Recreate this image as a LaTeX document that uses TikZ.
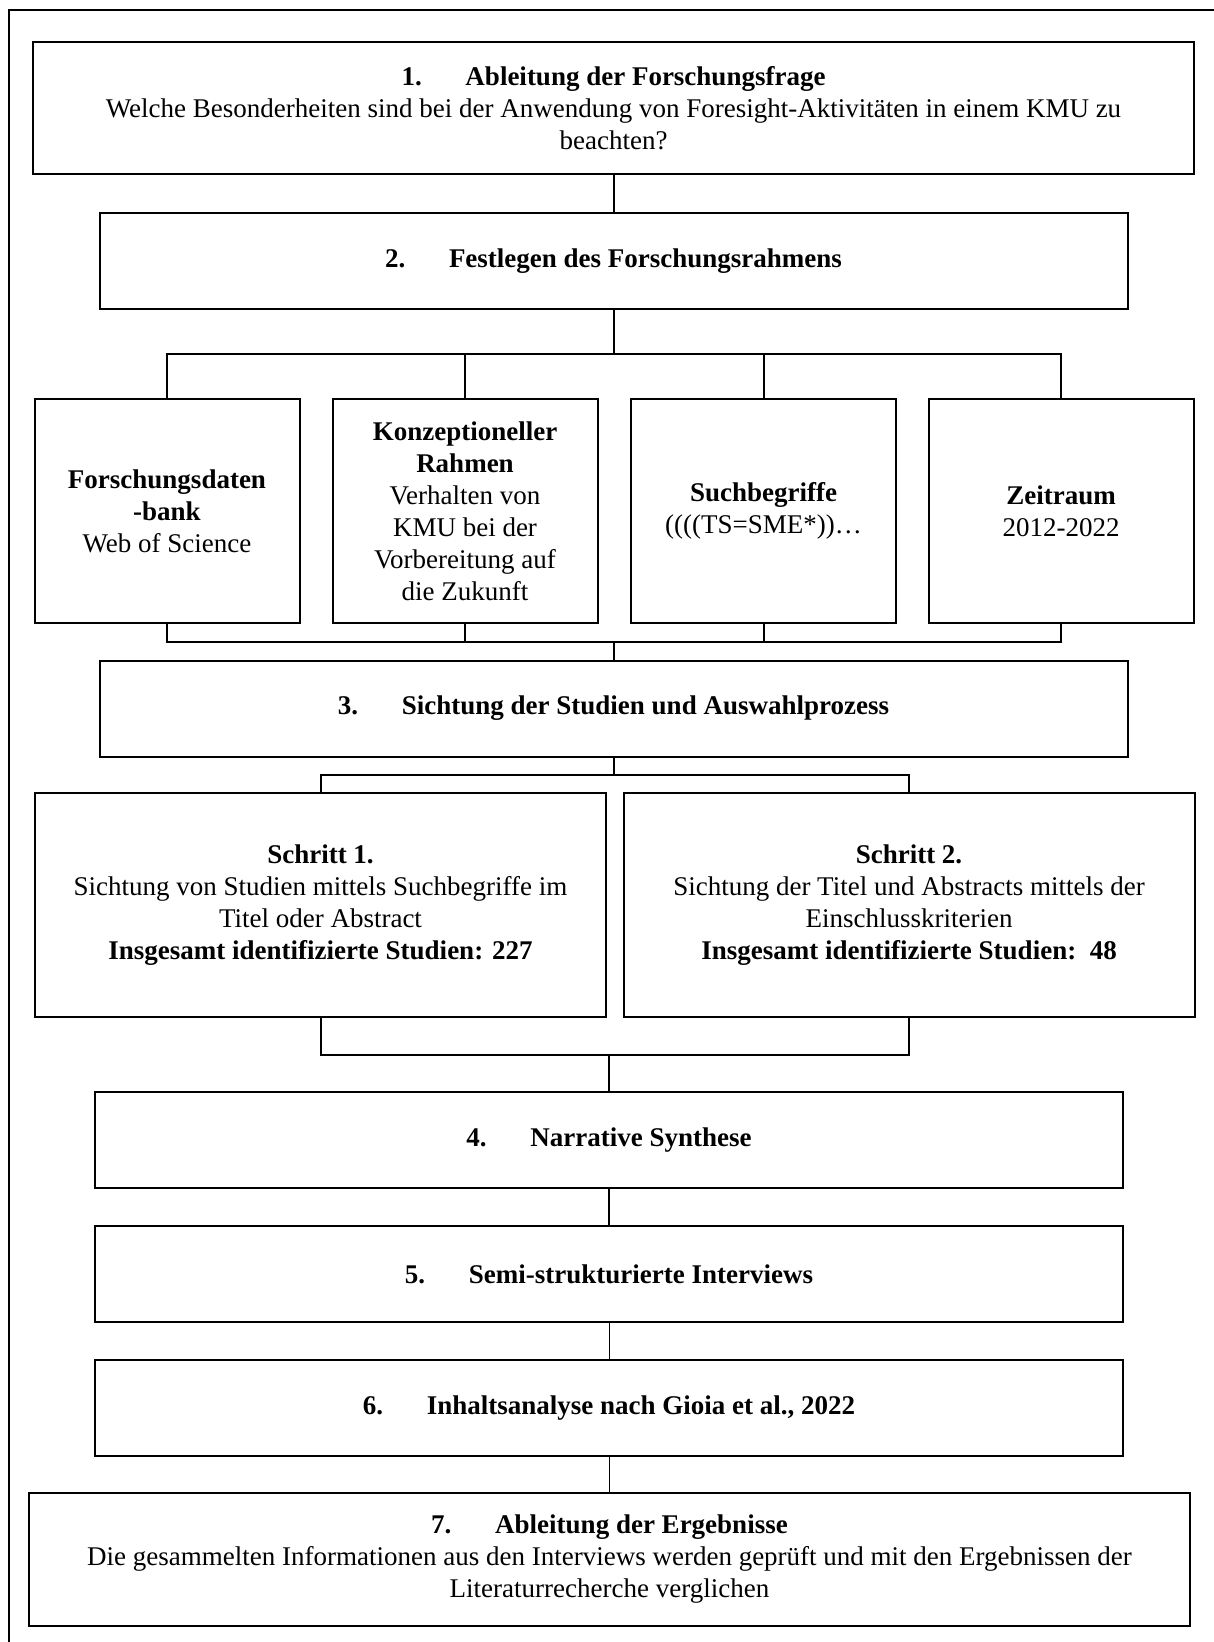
\documentclass[tikz,border=0pt]{standalone}
\usepackage{fontspec}
\setmainfont{Liberation Serif}
\usepackage{tikz}

\newcommand{\nr}[1]{\makebox[32pt][l]{#1}}

\begin{document}
\begin{tikzpicture}[x=0.5pt, y=-0.5pt,
    box/.style={draw, line width=1pt, align=center, inner sep=2pt,
        font=\fontsize{13.5pt}{16pt}\selectfont},
    widebox/.style={box, minimum width=580.5pt, minimum height=66pt},
    stagebox/.style={box, minimum width=514pt, minimum height=48pt},
    smallbox/.style={box, minimum width=132.5pt, minimum height=112pt},
    stepbox/.style={box, minimum width=285.5pt, minimum height=112pt},
    link/.style={line width=1pt},
    thinlink/.style={line width=0.5pt}]
    \useasboundingbox (0,0) rectangle (1214,1642);

    % outer frame
    \draw[line width=1pt] (9,1642) -- (9,10) -- (1214,10);

    \node[widebox] (frage) at (613.5, 108) {\textbf{\nr{1.}Ableitung der Forschungsfrage}\\
        Welche Besonderheiten sind bei der Anwendung von Foresight-Aktivitäten in einem KMU zu\\ beachten?};
    \node[stagebox] (rahmen) at (613.5, 261.5) {\textbf{\nr{2.}Festlegen des Forschungsrahmens}};

    \node[smallbox] (bank) at (167, 511) {\textbf{Forschungsdaten}\\ \textbf{-bank}\\ Web of Science};
    \node[smallbox] (konzept) at (465, 511) {\textbf{Konzeptioneller}\\ \textbf{Rahmen}\\ Verhalten von\\ KMU bei der\\ Vorbereitung auf\\ die Zukunft};
    \node[smallbox] (such) at (763.5, 511) {\textbf{Suchbegriffe}\\ ((((TS=SME*))…};
    \node[smallbox] (zeit) at (1061, 511) {\textbf{Zeitraum}\\ 2012-2022};

    \node[stagebox] (sichtung) at (613.5, 708.5) {\textbf{\nr{3.}Sichtung der Studien und Auswahlprozess}};

    \node[stepbox] (schritt1) at (320.5, 905) {\textbf{Schritt 1.}\\ Sichtung von Studien mittels Suchbegriffe im\\ Titel oder Abstract\\ \textbf{Insgesamt identifizierte Studien: 227}};
    \node[stepbox] (schritt2) at (909, 905) {\textbf{Schritt 2.}\\ Sichtung der Titel und Abstracts mittels der\\ Einschlusskriterien\\ \textbf{Insgesamt identifizierte Studien:~~48}};

    \node[stagebox] (synthese) at (609, 1140) {\textbf{\nr{4.}Narrative Synthese}};
    \node[stagebox] (interviews) at (609, 1274) {\textbf{\nr{5.}Semi-strukturierte Interviews}};
    \node[stagebox] (analyse) at (609, 1408) {\textbf{\nr{6.}Inhaltsanalyse nach Gioia et al., 2022}};
    \node[widebox, minimum height=66.5pt] (ergebnis) at (609.5, 1559.5) {\textbf{\nr{7.}Ableitung der Ergebnisse}\\
        Die gesammelten Informationen aus den Interviews werden geprüft und mit den Ergebnissen der\\ Literaturrecherche verglichen};

    % bus points
    \coordinate (bus1) at (613.5, 354);
    \coordinate (bus2) at (613.5, 642);
    \coordinate (bus3) at (613.5, 775);
    \coordinate (bus4) at (609, 1055);

    \draw[link] (frage) -- (rahmen);
    \draw[link] (rahmen) -- (bus1);
    \foreach \n in {bank, konzept, such, zeit}
        \draw[link] (\n.north) |- (bus1);
    \foreach \n in {bank, konzept, such, zeit}
        \draw[link] (\n.south) |- (bus2);
    \draw[link] (bus2) -- (sichtung);
    \draw[link] (sichtung) -- (bus3);
    \draw[link] (schritt1.north) |- (bus3);
    \draw[link] (schritt2.north) |- (bus3);
    \draw[link] (schritt1.south) |- (bus4);
    \draw[link] (schritt2.south) |- (bus4);
    \draw[link] (bus4) -- (synthese);
    \draw[link] (synthese) -- (interviews);
    \draw[thinlink] (interviews) -- (analyse);
    \draw[thinlink] (analyse.south) -- (analyse.south |- ergebnis.north);

\end{tikzpicture}
\end{document}
